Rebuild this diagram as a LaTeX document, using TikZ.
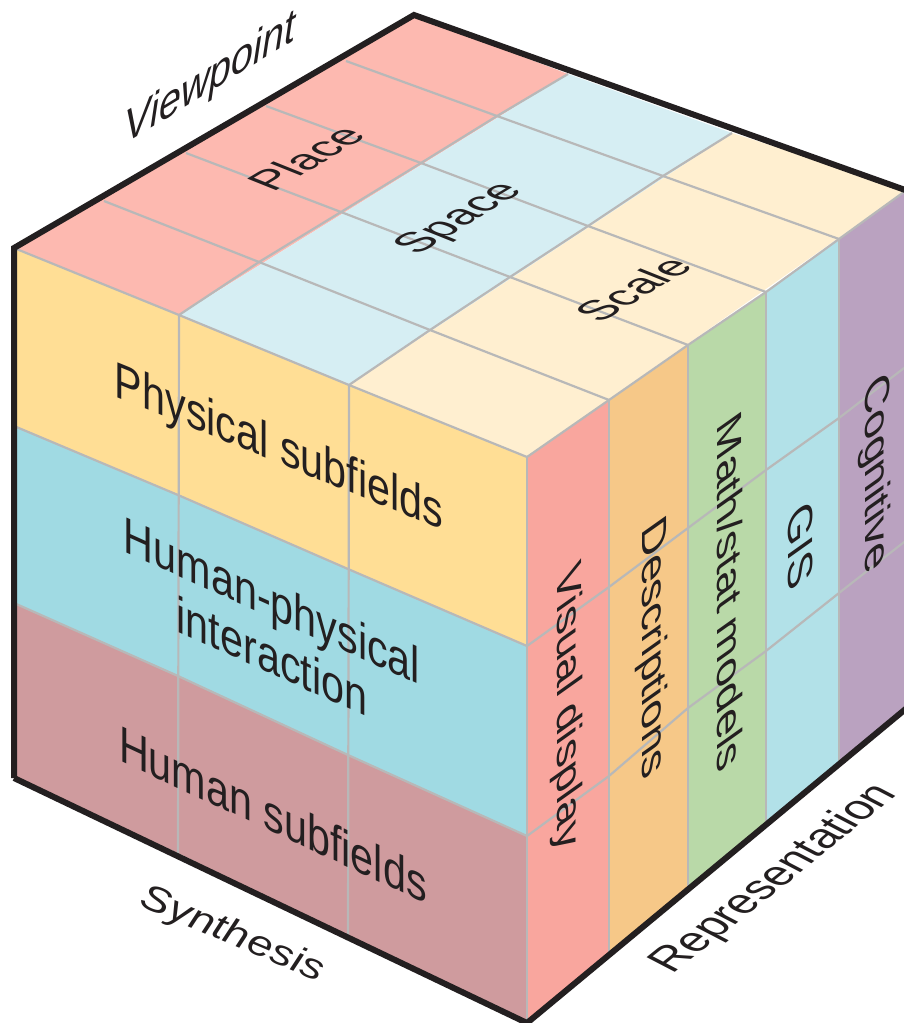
\documentclass[tikz,border=0pt]{standalone}
\usepackage{fontspec}
\setmainfont{Liberation Sans}
\definecolor{placec}{HTML}{FDB9B0}
\definecolor{spacec}{HTML}{D6EEF3}
\definecolor{scalec}{HTML}{FFEFD0}
\definecolor{physc}{HTML}{FFDE95}
\definecolor{interc}{HTML}{A0DAE3}
\definecolor{humanc}{HTML}{CF9B9E}
\definecolor{visc}{HTML}{F9A69E}
\definecolor{descc}{HTML}{F6C888}
\definecolor{mathc}{HTML}{B9D9A8}
\definecolor{gisc}{HTML}{B2E1E8}
\definecolor{cogc}{HTML}{BAA2C0}
\definecolor{gridc}{HTML}{B8B8B8}
\definecolor{inkc}{HTML}{231F20}
\tikzset{
  gridline/.style={draw=gridc,line width=2.2pt},
  outline/.style={draw=inkc,line width=6pt,line join=miter},
  lbl/.style={text=inkc,inner sep=0pt,align=center},
  leftface/.style={lbl,font=\fontsize{51}{56}\selectfont,cm={0.81,#1,0,1,(0,0)}},
  topface/.style={lbl,font=\fontsize{42}{46}\selectfont,cm={0.90,0.54,-1.0,0.40,(0,0)}},
  rightface/.style={lbl,font=\fontsize{46}{50}\selectfont,cm={0,-1,0.76,0.54,(0,0)}},
  viewlabel/.style={lbl,font=\fontsize{42}{46}\selectfont\itshape,cm={0.94,0.58,0,1.1,(0,0)}},
  synlabel/.style={lbl,font=\fontsize{40}{44}\selectfont\itshape,cm={1.04,-0.44,0.3,0.85,(0,0)}},
  replabel/.style={lbl,font=\fontsize{41}{45}\selectfont,cm={0.81,0.65,-1.0,0.52,(0,0)}}
}
\begin{document}
\begin{tikzpicture}[x=1pt,y=-1pt]
\useasboundingbox (0,0) rectangle (904,1023);
\clip (0,0) rectangle (904,1023);
% top face coordinates
\coordinate (a0) at (14,248);\coordinate (a1) at (104,201);\coordinate (a2) at (186,153);\coordinate (a3) at (266,106);\coordinate (a4) at (346,61);\coordinate (a5) at (414,15);
\coordinate (b0) at (179,315);\coordinate (b1) at (259,262);\coordinate (b2) at (341,212);\coordinate (b3) at (421,163);\coordinate (b4) at (497,116);\coordinate (b5) at (568,74);
\coordinate (c0) at (349,385);\coordinate (c1) at (430,330);\coordinate (c2) at (510,277);\coordinate (c3) at (588,226);\coordinate (c4) at (663,176);\coordinate (c5) at (732,133);
\coordinate (d0) at (527,457);\coordinate (d1) at (609,400);\coordinate (d2) at (688,345);\coordinate (d3) at (766,292);\coordinate (d4) at (839,239);\coordinate (d5) at (908,189);
% left face coordinates
\coordinate (l1) at (14,426);\coordinate (l2) at (14,603);\coordinate (l3) at (14,778);
\coordinate (p1) at (178,495);\coordinate (p2) at (178,676);\coordinate (p3) at (178,853);
\coordinate (q1) at (348,569);\coordinate (q2) at (348,755);\coordinate (q3) at (348,936);
\coordinate (m1) at (527,646);\coordinate (m2) at (527,836);\coordinate (m3) at (527,1023);
% right face coordinates
\coordinate (r1) at (609,587);\coordinate (r2) at (609,776);\coordinate (r3) at (609,957);
\coordinate (s1) at (688,528);\coordinate (s2) at (688,708);\coordinate (s3) at (688,890);
\coordinate (t1) at (766,470);\coordinate (t2) at (766,651);\coordinate (t3) at (766,826);
\coordinate (u1) at (839,418);\coordinate (u2) at (839,593);\coordinate (u3) at (839,765);
\coordinate (v1) at (908,365);\coordinate (v2) at (908,539);\coordinate (v3) at (908,707);
% fills
\fill[placec] (a0)--(a5)--(b5)--(b0)--cycle;
\fill[spacec] (b0)--(b5)--(c5)--(c0)--cycle;
\fill[scalec] (c0)--(c5)--(d5)--(d0)--cycle;
\fill[physc] (a0)--(b0)--(c0)--(d0)--(m1)--(q1)--(p1)--(l1)--cycle;
\fill[interc] (l1)--(p1)--(q1)--(m1)--(m2)--(q2)--(p2)--(l2)--cycle;
\fill[humanc] (l2)--(p2)--(q2)--(m2)--(m3)--(q3)--(p3)--(l3)--cycle;
\fill[visc] (d0)--(d1)--(r3)--(m3)--cycle;
\fill[descc] (d1)--(d2)--(s3)--(r3)--cycle;
\fill[mathc] (d2)--(d3)--(t3)--(s3)--cycle;
\fill[gisc] (d3)--(d4)--(u3)--(t3)--cycle;
\fill[cogc] (d4)--(d5)--(v3)--(u3)--cycle;
% grid on top
\draw[gridline] (a1)--(b1)--(c1)--(d1);
\draw[gridline] (a2)--(b2)--(c2)--(d2);
\draw[gridline] (a3)--(b3)--(c3)--(d3);
\draw[gridline] (a4)--(b4)--(c4)--(d4);
\draw[gridline] (b0)--(b1)--(b2)--(b3)--(b4)--(b5);
\draw[gridline] (c0)--(c1)--(c2)--(c3)--(c4)--(c5);
\draw[gridline] (d0)--(d1)--(d2)--(d3)--(d4)--(d5);
\draw[gridline] (a0)--(b0)--(c0)--(d0);
% grid on left
\draw[gridline] (l1)--(p1)--(q1)--(m1);
\draw[gridline] (l2)--(p2)--(q2)--(m2);
\draw[gridline] (b0)--(p3);
\draw[gridline] (c0)--(q3);
\draw[gridline] (d0)--(m3);
% grid on right
\draw[gridline] (m1)--(r1)--(s1)--(t1)--(u1)--(v1);
\draw[gridline] (m2)--(r2)--(s2)--(t2)--(u2)--(v2);
\draw[gridline] (d1)--(r3);
\draw[gridline] (d2)--(s3);
\draw[gridline] (d3)--(t3);
\draw[gridline] (d4)--(u3);
% outline
\draw[outline] (l3)--(a0)--(a5)--(908,191);
\draw[outline] (l3)--(m3)--(v3);
% labels
\node[topface] (place) at (306,158) {Place};
\node[topface] (space) at (461,219) {Space};
\node[topface] (scale) at (633,289) {Scale};
\node[leftface=-0.33] (phys) at (279,450) {Physical subfields};
\node[leftface=-0.365] (inter) at (272,628) {Human-physical\\interaction};
\node[leftface=-0.378] (human) at (273,814) {Human subfields};
\node[rightface] (vis) at (567,709) {Visual display};
\node[rightface] (desc) at (652,650) {Descriptions};
\node[rightface] (math) at (730,592) {Math/stat models};
\node[rightface] (gis) at (801,546) {GIS};
\node[rightface] (cog) at (875,475) {Cognitive};
\node[viewlabel] (view) at (210,80) {Viewpoint};
\node[synlabel] (syn) at (232,935) {Synthesis};
\node[replabel] (rep) at (775,879) {Representation};
\end{tikzpicture}
\end{document}
